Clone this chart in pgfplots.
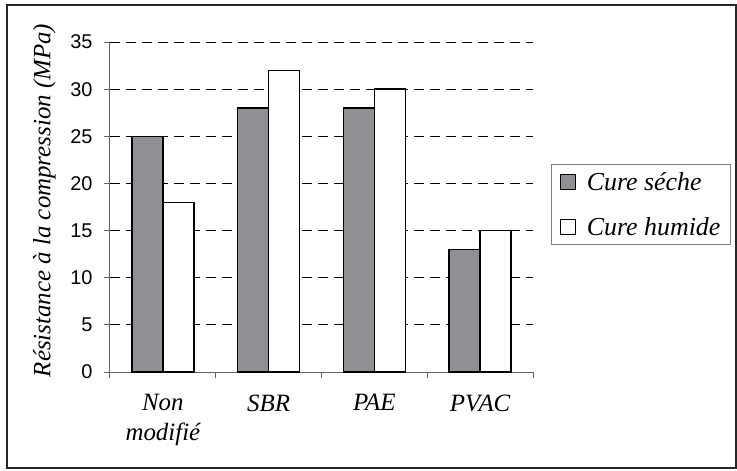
\documentclass[border=0pt]{standalone}
\usepackage{fontspec}
\setmainfont{Liberation Serif}
\setsansfont{Liberation Sans}
\usepackage{pgfplots}
\pgfplotsset{compat=1.18}
\definecolor{barGray}{RGB}{143,143,148}
\definecolor{axGray}{RGB}{100,100,100}

\begin{document}
\begin{tikzpicture}
\begin{axis}[
  at={(0,0)}, anchor=south west,
  scale only axis, width=423bp, height=330bp,
  ymin=0, ymax=35,
  ytick={5,10,...,35},
  extra y ticks={0},
  extra y tick style={grid=none},
  xmin=-0.5, xmax=3.5,
  xtick={-0.5,0.5,1.5,2.5,3.5},
  xticklabels={Non\\modifié, SBR, PAE, PVAC},
  x tick label as interval,
  ybar=0pt, bar width=31bp,
  axis x line=bottom, axis y line=left,
  axis line style={-, draw=axGray, line width=1bp},
  tick align=outside, major tick length=6bp,
  tick style={draw=axGray, line width=1bp},
  ymajorgrids,
  grid style={dash pattern=on 10bp off 6bp, black, line width=0.8bp},
  /pgf/number format/assume math mode=true,
  yticklabel style={font=\fontsize{20}{20}\sffamily, xshift=-8bp},
  xticklabel style={font=\fontsize{25}{30}\selectfont\itshape, align=center, yshift=-13bp},
  ylabel={Résistance à la compression (MPa)},
  every axis y label/.style={at={(axis description cs:-0.155,0.52)}, rotate=90, anchor=center,
    font=\fontsize{25}{28}\selectfont\itshape},
  legend style={at={(rel axis cs:1.0426,0.630)}, anchor=north west,
    draw=gray, line width=1bp, font=\fontsize{26}{28}\selectfont\itshape,
    row sep=21bp, inner xsep=8bp, inner ysep=6bp},
  legend cell align=left,
  legend image code/.code={\draw[#1, line width=1.2bp] (0bp,-7.5bp) rectangle (15bp,7.5bp);
    \path (24bp,0bp);},
]
\addplot[fill=barGray, draw=black, line width=1.5bp] coordinates {(0,25) (1,28) (2,28) (3,13)};
\addplot[fill=white, draw=black, line width=1.5bp] coordinates {(0,18) (1,32) (2,30) (3,15)};
\legend{Cure séche, Cure humide}
\end{axis}
\draw[line width=2bp, draw=black!85] (-103bp,-96bp) rectangle (626bp,367bp);
\pgfresetboundingbox
\useasboundingbox (-110bp,-99bp) rectangle (627bp,372bp);
\end{tikzpicture}
\end{document}
